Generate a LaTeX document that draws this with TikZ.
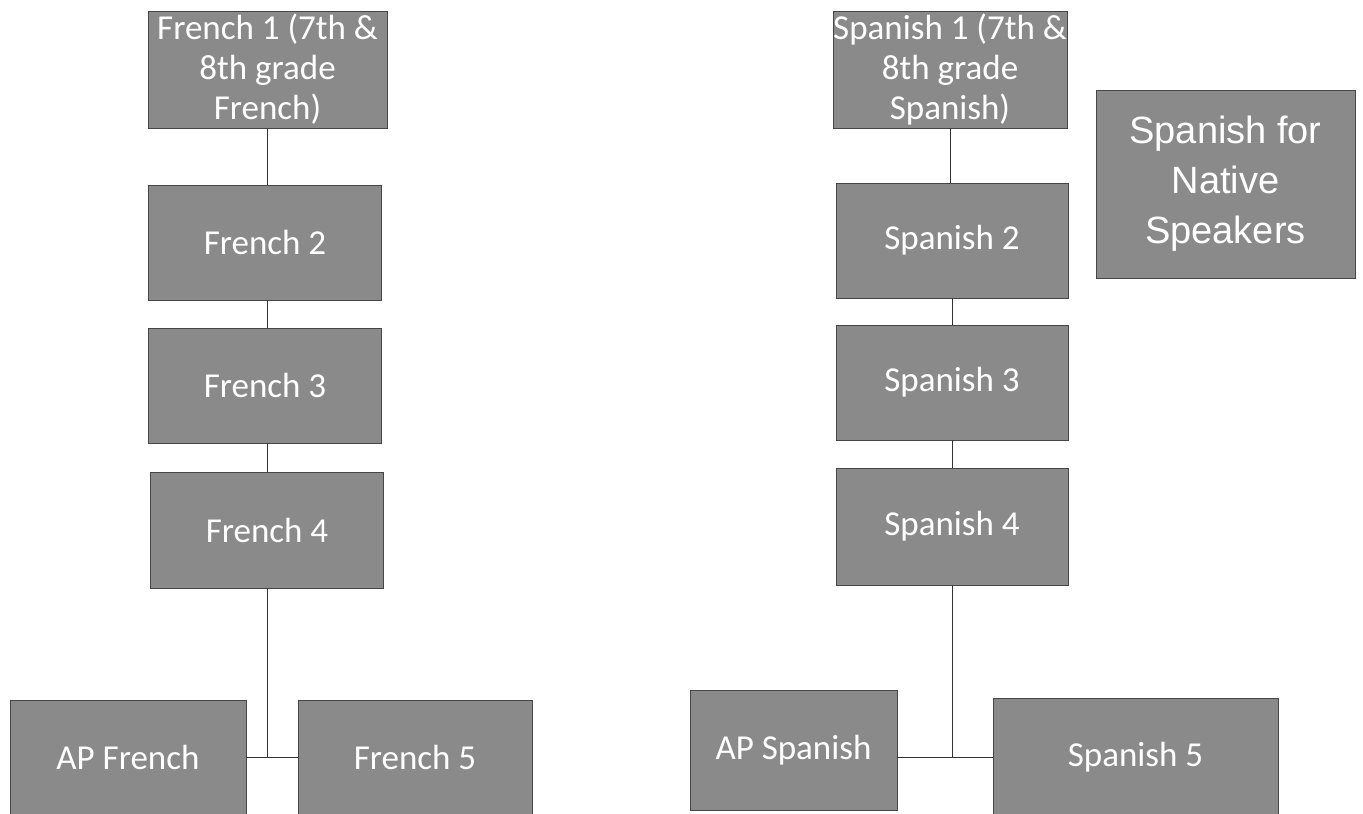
\documentclass[tikz,border=0pt]{standalone}
\usepackage{fontspec}
\setmainfont{Carlito}
\newfontfamily\arialfont{Liberation Sans}
\definecolor{boxgray}{RGB}{138,138,138}
\definecolor{edgegray}{RGB}{70,70,70}
\begin{document}
\begin{tikzpicture}[x=1pt,y=-1pt,
  course/.style={draw=edgegray, line width=0.8pt, fill=boxgray, text=white,
    align=center, inner sep=0pt, font=\fontsize{35}{40}\selectfont},
  link/.style={draw=black!80, line width=1pt}]
\useasboundingbox[fill=white] (0,0) rectangle (1363,814);
\begin{scope}
\clip (0,0) rectangle (1363,814);
% French column
\node[course, minimum width=239pt, minimum height=117pt] (F1) at (267.5,69.5) {French 1 (7th \&\\8th grade\\French)};
\node[course, minimum width=233pt, minimum height=115pt] (F2) at (265,242.5) {French 2};
\node[course, minimum width=233pt, minimum height=115pt] (F3) at (265,385.5) {French 3};
\node[course, minimum width=233pt, minimum height=116pt] (F4) at (267,530) {French 4};
\node[course, minimum width=236pt, minimum height=114pt] (APF) at (128,757) {AP French};
\node[course, minimum width=234pt, minimum height=114pt] (F5) at (415,757) {French 5};
% Spanish column
\node[course, minimum width=234pt, minimum height=117pt] (S1) at (950,69.5) {Spanish 1 (7th \&\\8th grade\\Spanish)};
\node[course, minimum width=232pt, minimum height=115pt] (S2) at (952,240.5) {Spanish 2};
\node[course, minimum width=232pt, minimum height=115pt] (S3) at (952,382.5) {Spanish 3};
\node[course, minimum width=232pt, minimum height=117pt] (S4) at (952,526.5) {Spanish 4};
\node[course, minimum width=207pt, minimum height=120pt] (APS) at (793.5,750) {AP Spanish};
\node[course, minimum width=285pt, minimum height=118pt] (S5) at (1135.5,757) {Spanish 5};
\node[course, minimum width=259pt, minimum height=188pt, font=\arialfont\fontsize{38}{50}\selectfont] (SNS) at (1225.5,184) {Spanish for\\Native\\Speakers};
% French connectors
\draw[link] (F1.south) -- (F1.south |- F2.north);
\draw[link] (F1.south |- F2.south) -- (F1.south |- F3.north);
\draw[link] (F1.south |- F3.south) -- (F1.south |- F4.north);
\coordinate (fj) at (F1.south |- F5.west);
\draw[link] (F1.south |- F4.south) -- (fj);
\draw[link] (APF.east) -- (F5.west);
% Spanish connectors
\draw[link] (S1.south) -- (S1.south |- S2.north);
\draw[link] (S2.south) -- (S2.south |- S3.north);
\draw[link] (S3.south) -- (S3.south |- S4.north);
\coordinate (sj) at (S4.south |- S5.west);
\draw[link] (S4.south) -- (sj);
\draw[link] (APS.east |- S5.west) -- (S5.west);
\end{scope}
\end{tikzpicture}
\end{document}
